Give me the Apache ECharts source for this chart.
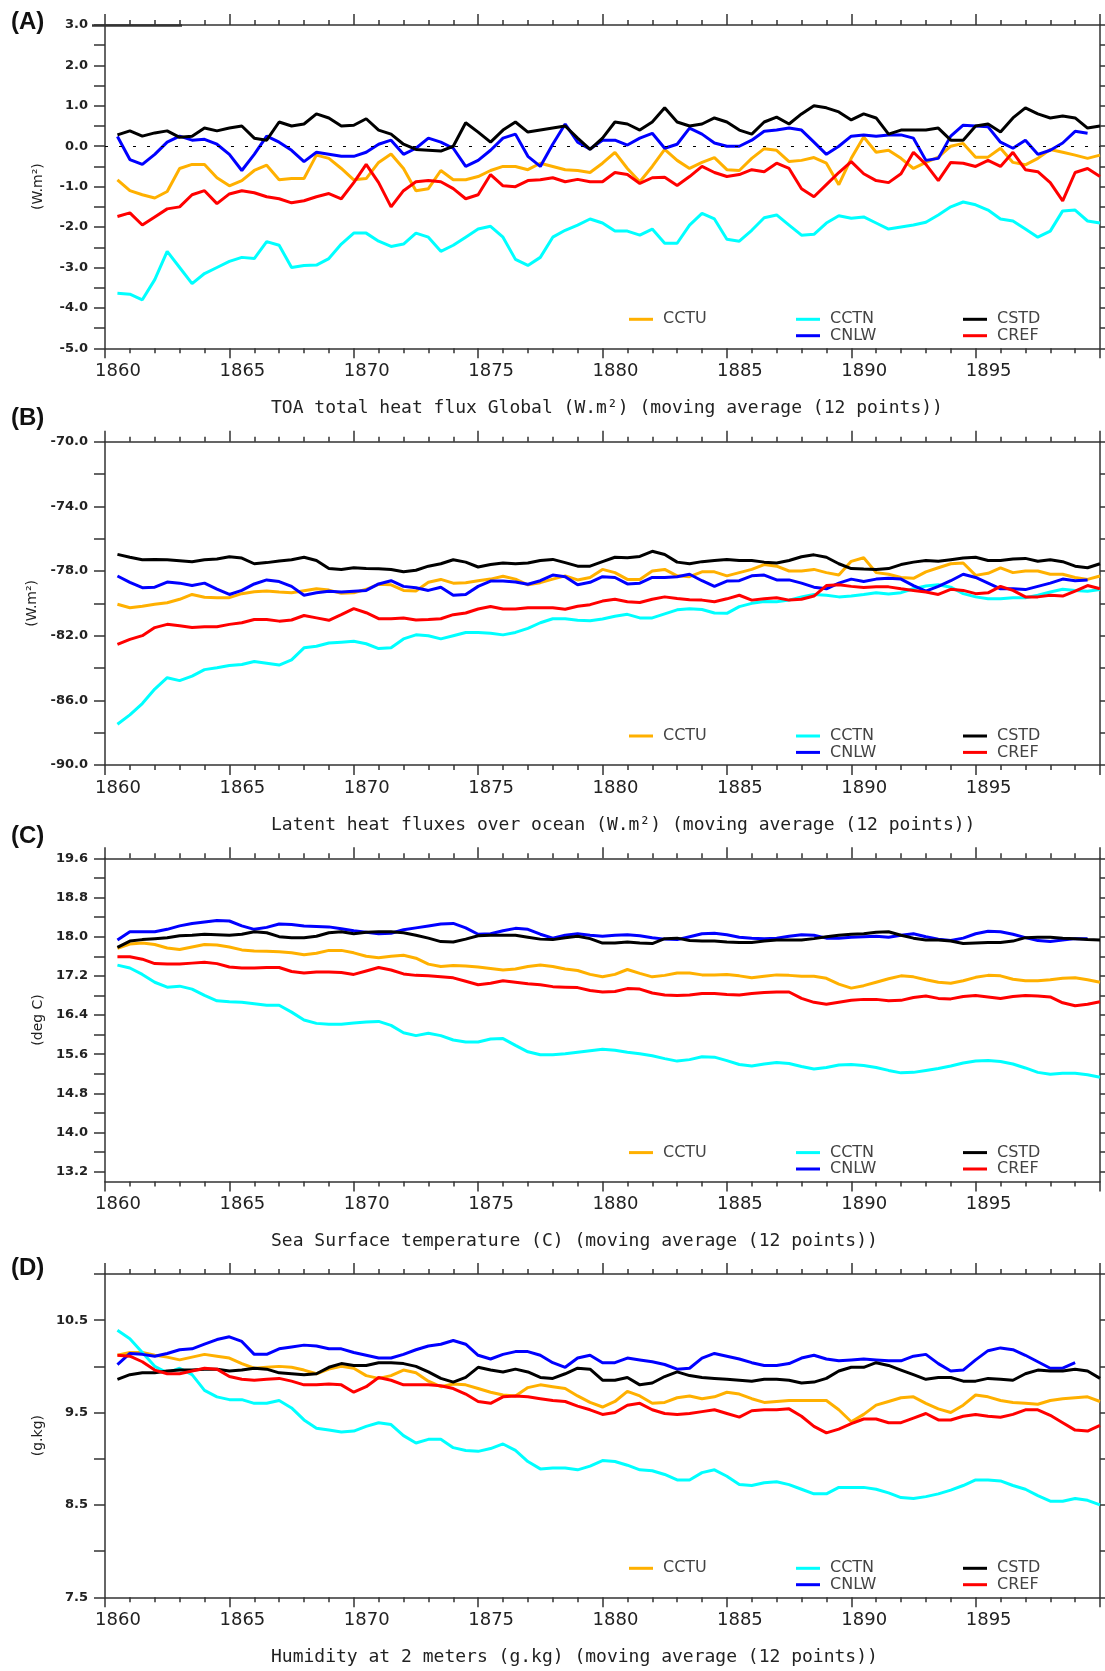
<!DOCTYPE html>
<html>
<head>
<meta charset="utf-8">
<title>Global diagnostics, 1860-1900 (12-point moving average)</title>
<script src="https://cdn.jsdelivr.net/npm/echarts@6/dist/echarts.min.js"></script>
<style>
  html, body { margin: 0; padding: 0; background: #ffffff; }
  #chart { width: 1105px; height: 1671px; }
</style>
</head>
<body>
<div id="chart"></div>
<script>
// Time axis: half-year samples of the 12-point moving averages
const years = [
  1860.5, 1861.0, 1861.5, 1862.0, 1862.5, 1863.0, 1863.5, 1864.0, 1864.5, 1865.0,
  1865.5, 1866.0, 1866.5, 1867.0, 1867.5, 1868.0, 1868.5, 1869.0, 1869.5, 1870.0,
  1870.5, 1871.0, 1871.5, 1872.0, 1872.5, 1873.0, 1873.5, 1874.0, 1874.5, 1875.0,
  1875.5, 1876.0, 1876.5, 1877.0, 1877.5, 1878.0, 1878.5, 1879.0, 1879.5, 1880.0,
  1880.5, 1881.0, 1881.5, 1882.0, 1882.5, 1883.0, 1883.5, 1884.0, 1884.5, 1885.0,
  1885.5, 1886.0, 1886.5, 1887.0, 1887.5, 1888.0, 1888.5, 1889.0, 1889.5, 1890.0,
  1890.5, 1891.0, 1891.5, 1892.0, 1892.5, 1893.0, 1893.5, 1894.0, 1894.5, 1895.0,
  1895.5, 1896.0, 1896.5, 1897.0, 1897.5, 1898.0, 1898.5, 1899.0, 1899.5, 1900.0
];

// (A) TOA total heat flux, global (W.m2)
const toaCCTU = [
  -0.83, -1.1, -1.2, -1.28, -1.12, -0.55, -0.45, -0.45, -0.78, -0.98,
  -0.85, -0.6, -0.47, -0.83, -0.8, -0.8, -0.22, -0.3, -0.55, -0.83,
  -0.8, -0.4, -0.19, -0.55, -1.1, -1.05, -0.6, -0.83, -0.83, -0.75,
  -0.6, -0.5, -0.5, -0.58, -0.42, -0.5, -0.58, -0.6, -0.65, -0.42,
  -0.15, -0.55, -0.88, -0.5, -0.08, -0.35, -0.55, -0.4, -0.28, -0.58,
  -0.6, -0.3, -0.06, -0.1, -0.38, -0.35, -0.28, -0.42, -0.95, -0.3,
  0.23, -0.15, -0.1, -0.3, -0.55, -0.4, -0.27, 0.0, 0.07, -0.27,
  -0.27, -0.05, -0.4, -0.46, -0.3, -0.08, -0.15, -0.22, -0.3, -0.22
];
const toaCCTN = [
  -3.64, -3.66, -3.8, -3.3, -2.6, -3.0, -3.4, -3.15, -3.0, -2.85,
  -2.75, -2.78, -2.36, -2.45, -3.0, -2.95, -2.94, -2.78, -2.42, -2.15,
  -2.15, -2.35, -2.48, -2.42, -2.15, -2.25, -2.6, -2.45, -2.25, -2.05,
  -1.98, -2.25, -2.8, -2.95, -2.75, -2.25, -2.08, -1.95, -1.8, -1.9,
  -2.1, -2.1, -2.2, -2.05, -2.4, -2.4, -1.95, -1.66, -1.8, -2.3,
  -2.35, -2.08, -1.77, -1.7, -1.95, -2.2, -2.18, -1.9, -1.72, -1.78,
  -1.75, -1.9, -2.05, -2.0, -1.95, -1.88, -1.7, -1.5, -1.38, -1.45,
  -1.58, -1.8, -1.85, -2.05, -2.25, -2.1, -1.6, -1.58, -1.85, -1.9
];
const toaCNLW = [
  0.24, -0.33, -0.45, -0.2, 0.1, 0.25, 0.15, 0.17, 0.05, -0.2,
  -0.6, -0.2, 0.25, 0.1, -0.1, -0.38, -0.15, -0.2, -0.25, -0.25,
  -0.15, 0.05, 0.15, -0.2, -0.05, 0.2, 0.1, -0.05, -0.5, -0.35,
  -0.1, 0.2, 0.3, -0.25, -0.5, 0.05, 0.55, 0.1, -0.07, 0.15,
  0.15, 0.03, 0.2, 0.32, -0.05, 0.05, 0.45, 0.3, 0.08, 0.0,
  0.0, 0.15, 0.37, 0.4, 0.45, 0.4, 0.1, -0.2, 0.0, 0.25,
  0.28, 0.25, 0.28, 0.28, 0.2, -0.35, -0.3, 0.25, 0.52, 0.5,
  0.48, 0.1, -0.05, 0.15, -0.2, -0.1, 0.08, 0.37, 0.32, null
];
const toaCSTD = [
  0.28, 0.38, 0.25, 0.33, 0.38, 0.22, 0.25, 0.45, 0.38, 0.45,
  0.5, 0.2, 0.15, 0.6, 0.5, 0.55, 0.8, 0.7, 0.5, 0.52,
  0.68, 0.4, 0.3, 0.05, -0.08, -0.1, -0.12, 0.0, 0.58, 0.35,
  0.1, 0.4, 0.6, 0.35, 0.4, 0.45, 0.5, 0.2, -0.08, 0.2,
  0.6, 0.55, 0.4, 0.6, 0.95, 0.6, 0.5, 0.55, 0.7, 0.6,
  0.4, 0.3, 0.6, 0.72, 0.55, 0.8, 1.0, 0.95, 0.85, 0.65,
  0.8, 0.7, 0.3, 0.4, 0.4, 0.4, 0.45, 0.15, 0.15, 0.5,
  0.55, 0.35, 0.7, 0.95, 0.8, 0.7, 0.75, 0.7, 0.45, 0.5
];
const toaCREF = [
  -1.74, -1.65, -1.95, -1.75, -1.55, -1.5, -1.2, -1.1, -1.42, -1.18,
  -1.1, -1.15, -1.25, -1.3, -1.4, -1.35, -1.25, -1.17, -1.3, -0.9,
  -0.45, -0.9, -1.5, -1.1, -0.88, -0.85, -0.88, -1.05, -1.3, -1.2,
  -0.7, -0.98, -1.0, -0.85, -0.83, -0.78, -0.88, -0.82, -0.88, -0.88,
  -0.65, -0.7, -0.92, -0.78, -0.77, -0.97, -0.75, -0.5, -0.65, -0.75,
  -0.7, -0.58, -0.63, -0.42, -0.55, -1.05, -1.25, -0.95, -0.65, -0.38,
  -0.68, -0.85, -0.9, -0.68, -0.15, -0.45, -0.85, -0.4, -0.42, -0.5,
  -0.35, -0.5, -0.15, -0.58, -0.63, -0.9, -1.35, -0.65, -0.55, -0.75
];

// (B) Latent heat fluxes over ocean (W.m2)
const lhfCCTU = [
  -80.06, -80.27, -80.18, -80.06, -79.96, -79.75, -79.45, -79.62, -79.65, -79.65,
  -79.4, -79.28, -79.24, -79.3, -79.34, -79.22, -79.1, -79.18, -79.38, -79.35,
  -79.13, -78.82, -78.85, -79.2, -79.24, -78.7, -78.52, -78.75, -78.72, -78.6,
  -78.5, -78.32, -78.5, -78.85, -78.72, -78.5, -78.3, -78.55, -78.4, -77.9,
  -78.1, -78.52, -78.52, -78.0, -77.9, -78.3, -78.35, -78.05, -78.05, -78.3,
  -78.1, -77.9, -77.6, -77.7, -78.0, -78.0, -77.9, -78.1, -78.25, -77.4,
  -77.18, -78.1, -78.2, -78.4, -78.45, -78.05, -77.8, -77.55, -77.5, -78.27,
  -78.14, -77.8, -78.1, -78.0, -78.0, -78.2, -78.2, -78.4, -78.52, -78.31
];
const lhfCCTN = [
  -87.48, -86.9, -86.2, -85.3, -84.6, -84.78, -84.5, -84.1, -83.98, -83.85,
  -83.78, -83.6, -83.7, -83.82, -83.5, -82.75, -82.65, -82.45, -82.4, -82.35,
  -82.5, -82.8, -82.75, -82.2, -81.95, -82.0, -82.2, -82.0, -81.8, -81.81,
  -81.85, -81.95, -81.8, -81.55, -81.2, -80.95, -80.95, -81.05, -81.07, -80.97,
  -80.8, -80.68, -80.9, -80.9, -80.65, -80.4, -80.33, -80.38, -80.6, -80.62,
  -80.2, -80.0, -79.88, -79.9, -79.8, -79.6, -79.45, -79.5, -79.6, -79.55,
  -79.45, -79.34, -79.42, -79.34, -79.1, -78.93, -78.85, -79.0, -79.4, -79.6,
  -79.72, -79.72, -79.65, -79.65, -79.5, -79.3, -79.13, -79.2, -79.25, -79.15
];
const lhfCNLW = [
  -78.31, -78.7, -79.03, -79.0, -78.68, -78.75, -78.9, -78.75, -79.12, -79.45,
  -79.2, -78.8, -78.55, -78.65, -78.95, -79.5, -79.35, -79.25, -79.3, -79.25,
  -79.2, -78.8, -78.6, -78.95, -79.03, -79.2, -79.0, -79.5, -79.45, -78.95,
  -78.62, -78.62, -78.68, -78.82, -78.6, -78.25, -78.35, -78.85, -78.7, -78.35,
  -78.4, -78.8, -78.75, -78.4, -78.4, -78.35, -78.2, -78.6, -78.95, -78.62,
  -78.6, -78.3, -78.25, -78.55, -78.55, -78.75, -79.0, -79.1, -78.75, -78.5,
  -78.65, -78.5, -78.45, -78.5, -78.9, -79.24, -78.95, -78.6, -78.2, -78.4,
  -78.75, -79.1, -79.1, -79.15, -78.95, -78.75, -78.5, -78.6, -78.55, null
];
const lhfCSTD = [
  -76.97, -77.15, -77.3, -77.28, -77.3, -77.36, -77.42, -77.3, -77.25, -77.12,
  -77.2, -77.55, -77.48, -77.38, -77.3, -77.15, -77.35, -77.85, -77.9, -77.8,
  -77.85, -77.86, -77.9, -78.05, -77.95, -77.7, -77.55, -77.3, -77.45, -77.75,
  -77.6, -77.5, -77.55, -77.5, -77.35, -77.28, -77.48, -77.7, -77.7, -77.42,
  -77.15, -77.18, -77.1, -76.78, -76.98, -77.45, -77.55, -77.42, -77.35, -77.28,
  -77.35, -77.35, -77.45, -77.5, -77.35, -77.12, -77.0, -77.15, -77.55, -77.85,
  -77.88, -77.9, -77.85, -77.6, -77.45, -77.35, -77.4, -77.3, -77.2, -77.15,
  -77.35, -77.35, -77.25, -77.22, -77.4, -77.3, -77.42, -77.7, -77.8, -77.55
];
const lhfCREF = [
  -82.54, -82.23, -82.0, -81.5, -81.3, -81.38, -81.5, -81.45, -81.45, -81.3,
  -81.2, -81.0, -81.0, -81.1, -81.03, -80.75, -80.9, -81.05, -80.7, -80.33,
  -80.58, -80.95, -80.95, -80.9, -81.03, -81.0, -80.95, -80.7, -80.6, -80.35,
  -80.2, -80.35, -80.35, -80.27, -80.27, -80.27, -80.37, -80.18, -80.08, -79.86,
  -79.75, -79.9, -79.95, -79.75, -79.6, -79.7, -79.78, -79.8, -79.9, -79.72,
  -79.5, -79.8, -79.72, -79.65, -79.8, -79.75, -79.55, -78.9, -78.85, -78.95,
  -79.02, -78.98, -78.98, -79.1, -79.2, -79.3, -79.45, -79.13, -79.2, -79.4,
  -79.35, -78.95, -79.2, -79.6, -79.6, -79.5, -79.55, -79.24, -78.9, -79.1
];

// (C) Sea surface temperature (deg C)
const sstCCTU = [
  17.76, 17.85, 17.87, 17.84, 17.77, 17.74, 17.79, 17.84, 17.83, 17.79,
  17.73, 17.71, 17.7, 17.69, 17.67, 17.63, 17.66, 17.72, 17.72, 17.67,
  17.6, 17.57, 17.6, 17.62, 17.56, 17.44, 17.39, 17.41, 17.4, 17.38,
  17.35, 17.32, 17.34, 17.39, 17.42, 17.39, 17.34, 17.31, 17.23, 17.18,
  17.23, 17.33, 17.25, 17.18, 17.21, 17.26, 17.26, 17.22, 17.22, 17.23,
  17.2, 17.16, 17.19, 17.22, 17.21, 17.19, 17.19, 17.15, 17.03, 16.95,
  17.0, 17.07, 17.14, 17.2, 17.18, 17.12, 17.07, 17.05, 17.1, 17.17,
  17.21, 17.2, 17.13, 17.1, 17.1, 17.12, 17.15, 17.16, 17.12, 17.07
];
const sstCCTN = [
  17.42, 17.36, 17.23, 17.07, 16.97, 16.99, 16.93, 16.8, 16.69, 16.67,
  16.66, 16.63, 16.6, 16.6, 16.46, 16.3, 16.23, 16.21, 16.21, 16.24,
  16.26, 16.27, 16.19, 16.04, 15.98, 16.03, 15.98, 15.89, 15.85, 15.85,
  15.91, 15.92, 15.78, 15.65, 15.59, 15.59, 15.61, 15.64, 15.67, 15.7,
  15.68, 15.64, 15.61, 15.57, 15.51, 15.46, 15.49, 15.55, 15.54, 15.47,
  15.39, 15.36, 15.4, 15.43, 15.41, 15.35, 15.3, 15.33, 15.38, 15.39,
  15.37, 15.33, 15.27, 15.22, 15.23, 15.27, 15.31, 15.36, 15.42, 15.46,
  15.47, 15.45, 15.4, 15.32, 15.23, 15.19, 15.21, 15.21, 15.18, 15.13
];
const sstCNLW = [
  17.93, 18.1, 18.1, 18.1, 18.15, 18.22, 18.27, 18.3, 18.33, 18.32,
  18.22, 18.15, 18.19, 18.26, 18.25, 18.22, 18.21, 18.2, 18.16, 18.12,
  18.09, 18.06, 18.07, 18.14, 18.18, 18.22, 18.26, 18.27, 18.18, 18.05,
  18.06, 18.12, 18.17, 18.15, 18.05, 17.97, 18.03, 18.06, 18.03, 18.01,
  18.03, 18.04, 18.02, 17.98, 17.95, 17.94, 18.0, 18.06, 18.07, 18.04,
  17.99, 17.97, 17.96, 17.97, 18.01, 18.04, 18.03, 17.97, 17.97, 17.99,
  18.0, 18.01, 17.99, 18.03, 18.06, 18.0, 17.95, 17.92, 17.97, 18.06,
  18.11, 18.1, 18.05, 17.98, 17.92, 17.9, 17.93, 17.96, 17.96, null
];
const sstCSTD = [
  17.78, 17.91, 17.94, 17.96, 17.98, 18.02, 18.03, 18.05, 18.04, 18.03,
  18.05, 18.1, 18.08, 18.0, 17.98, 17.98, 18.01, 18.08, 18.1, 18.06,
  18.09, 18.1, 18.1, 18.08, 18.03, 17.97, 17.9, 17.89, 17.95, 18.02,
  18.03, 18.03, 18.03, 17.99, 17.95, 17.94, 17.98, 18.01, 17.96, 17.87,
  17.87, 17.89, 17.87, 17.86, 17.96, 17.97, 17.92, 17.91, 17.91, 17.89,
  17.88, 17.88, 17.91, 17.93, 17.93, 17.93, 17.96, 18.0, 18.03, 18.05,
  18.06, 18.09, 18.1, 18.03, 17.97, 17.93, 17.93, 17.91, 17.86, 17.87,
  17.88, 17.88, 17.91, 17.98, 17.99, 17.99, 17.97, 17.96, 17.94, 17.93
];
const sstCREF = [
  17.59, 17.59, 17.54, 17.45, 17.44, 17.44, 17.46, 17.48, 17.45, 17.38,
  17.36, 17.36, 17.37, 17.37, 17.29, 17.26, 17.28, 17.28, 17.27, 17.23,
  17.3, 17.37, 17.32, 17.24, 17.21, 17.2, 17.18, 17.16, 17.09, 17.02,
  17.05, 17.1, 17.07, 17.04, 17.02, 16.98, 16.97, 16.96, 16.9, 16.87,
  16.88, 16.94, 16.93, 16.85, 16.81, 16.8, 16.81, 16.84, 16.84, 16.82,
  16.81, 16.84, 16.86, 16.87, 16.87, 16.74, 16.66, 16.62, 16.66, 16.7,
  16.72, 16.72, 16.69, 16.7, 16.76, 16.79, 16.74, 16.73, 16.78, 16.8,
  16.77, 16.74, 16.78, 16.8, 16.79, 16.77, 16.65, 16.59, 16.62, 16.67
];

// (D) Humidity at 2 meters (g.kg)
const humCCTU = [
  10.12, 10.15, 10.15, 10.12, 10.1, 10.07, 10.1, 10.13, 10.11, 10.09,
  10.03, 9.98, 9.99, 10.0, 9.99, 9.96, 9.92, 9.97, 10.0, 9.98,
  9.9, 9.87, 9.9, 9.96, 9.93, 9.84, 9.78, 9.81, 9.8, 9.76,
  9.72, 9.69, 9.68, 9.77, 9.8, 9.78, 9.76, 9.68, 9.61, 9.56,
  9.62, 9.73, 9.68, 9.6, 9.61, 9.66, 9.68, 9.65, 9.67, 9.72,
  9.7, 9.65, 9.61, 9.62, 9.63, 9.63, 9.63, 9.63, 9.53, 9.4,
  9.48, 9.58, 9.62, 9.66, 9.67, 9.6, 9.54, 9.5, 9.58, 9.69,
  9.67, 9.63, 9.61, 9.6, 9.59, 9.63, 9.65, 9.66, 9.67, 9.62
];
const humCCTN = [
  10.39, 10.3, 10.15, 10.0, 9.93, 9.98, 9.91, 9.74, 9.67, 9.64,
  9.64, 9.6, 9.6, 9.63, 9.55, 9.42, 9.33, 9.31, 9.29, 9.3,
  9.35, 9.39, 9.37, 9.25, 9.17, 9.21, 9.21, 9.12, 9.09, 9.08,
  9.11, 9.16, 9.09, 8.97, 8.89, 8.9, 8.9, 8.88, 8.92, 8.98,
  8.97, 8.93, 8.88, 8.87, 8.83, 8.77, 8.77, 8.85, 8.88, 8.81,
  8.72, 8.71, 8.74, 8.75, 8.72, 8.67, 8.62, 8.62, 8.69, 8.69,
  8.69, 8.67, 8.63, 8.58, 8.57, 8.59, 8.62, 8.66, 8.71, 8.77,
  8.77, 8.76, 8.71, 8.67, 8.6, 8.54, 8.54, 8.57, 8.55, 8.5
];
const humCNLW = [
  10.02, 10.14, 10.13, 10.11, 10.14, 10.18, 10.19, 10.24, 10.29, 10.32,
  10.27, 10.13, 10.13, 10.19, 10.21, 10.23, 10.22, 10.19, 10.19, 10.15,
  10.12, 10.09, 10.09, 10.13, 10.18, 10.22, 10.24, 10.28, 10.24, 10.12,
  10.08, 10.13, 10.16, 10.16, 10.12, 10.04, 9.99, 10.09, 10.12, 10.04,
  10.04, 10.09, 10.07, 10.05, 10.02, 9.97, 9.98, 10.09, 10.14, 10.11,
  10.08, 10.04, 10.01, 10.01, 10.03, 10.09, 10.12, 10.08, 10.06, 10.07,
  10.08, 10.07, 10.06, 10.06, 10.11, 10.13, 10.03, 9.95, 9.96, 10.07,
  10.17, 10.2, 10.18, 10.12, 10.05, 9.98, 9.98, 10.04, null, null
];
const humCSTD = [
  9.86, 9.91, 9.93, 9.93, 9.95, 9.96, 9.96, 9.97, 9.97, 9.95,
  9.96, 9.98, 9.97, 9.93, 9.92, 9.91, 9.92, 9.99, 10.03, 10.01,
  10.01, 10.04, 10.04, 10.03, 10.0, 9.94, 9.87, 9.83, 9.88, 9.99,
  9.96, 9.94, 9.97, 9.94, 9.88, 9.87, 9.92, 9.98, 9.97, 9.85,
  9.85, 9.88, 9.8, 9.82, 9.89, 9.94, 9.9, 9.88, 9.87, 9.86,
  9.85, 9.84, 9.86, 9.86, 9.85, 9.82, 9.83, 9.87, 9.95, 9.99,
  9.99, 10.04, 10.01, 9.96, 9.91, 9.86, 9.88, 9.88, 9.84, 9.84,
  9.87, 9.86, 9.85, 9.92, 9.96, 9.95, 9.95, 9.97, 9.95, 9.87
];
const humCREF = [
  10.12, 10.11, 10.05, 9.96, 9.92, 9.92, 9.95, 9.98, 9.97, 9.89,
  9.86, 9.85, 9.86, 9.87, 9.84, 9.8, 9.8, 9.81, 9.8, 9.72,
  9.78, 9.88, 9.85, 9.8, 9.8, 9.8, 9.79, 9.76, 9.7, 9.62,
  9.6, 9.67, 9.68, 9.67, 9.65, 9.63, 9.62, 9.57, 9.53, 9.48,
  9.5, 9.58, 9.6, 9.53, 9.49, 9.48, 9.49, 9.51, 9.53, 9.49,
  9.45, 9.52, 9.53, 9.53, 9.54, 9.46, 9.35, 9.28, 9.32, 9.38,
  9.43, 9.43, 9.39, 9.39, 9.44, 9.49, 9.42, 9.42, 9.46, 9.48,
  9.46, 9.45, 9.48, 9.53, 9.53, 9.47, 9.39, 9.31, 9.3, 9.36
];

// Axis tick positions and labelled values
const yearLabels = [1860, 1865, 1870, 1875, 1880, 1885, 1890, 1895];
const toaTicks = [-5, -4.5, -4, -3.5, -3, -2.5, -2, -1.5, -1, -0.5, 0, 0.5, 1, 1.5, 2, 2.5, 3];
const toaLabels = [-5, -4, -3, -2, -1, 0, 1, 2, 3];
const lhfTicks = [-90, -88, -86, -84, -82, -80, -78, -76, -74, -72, -70];
const lhfLabels = [-90, -86, -82, -78, -74, -70];
const sstTicks = [13.2, 13.6, 14.0, 14.4, 14.8, 15.2, 15.6, 16.0, 16.4, 16.8, 17.2, 17.6, 18.0, 18.4, 18.8, 19.2, 19.6];
const sstLabels = [13.2, 14.0, 14.8, 15.6, 16.4, 17.2, 18.0, 18.8, 19.6];
const humTicks = [7.5, 8.0, 8.5, 9.0, 9.5, 10.0, 10.5, 11.0];
const humLabels = [7.5, 8.5, 9.5, 10.5];

const runNames = ['CCTU', 'CCTN', 'CNLW', 'CSTD', 'CREF'];
const runColors = { CCTU: '#FFB000', CCTN: '#00FFFF', CNLW: '#0000FF', CSTD: '#000000', CREF: '#FF0000' };

const panels = [
  { letter: '(A)', letterY: 22, top: 25, min: -5, max: 3, ticks: toaTicks, labels: toaLabels, yName: '(W.m²)',
    title: 'TOA total heat flux Global (W.m²) (moving average (12 points))', zeroLine: true,
    runs: { CCTU: toaCCTU, CCTN: toaCCTN, CNLW: toaCNLW, CSTD: toaCSTD, CREF: toaCREF } },
  { letter: '(B)', letterY: 418, top: 441.7, min: -90, max: -70, ticks: lhfTicks, labels: lhfLabels, yName: '(W.m²)',
    title: 'Latent heat fluxes over ocean (W.m²) (moving average (12 points))', zeroLine: false,
    runs: { CCTU: lhfCCTU, CCTN: lhfCCTN, CNLW: lhfCNLW, CSTD: lhfCSTD, CREF: lhfCREF } },
  { letter: '(C)', letterY: 836, top: 858.3, min: 13.0, max: 19.6, ticks: sstTicks, labels: sstLabels, yName: '(deg C)',
    title: 'Sea Surface temperature (C) (moving average (12 points))', zeroLine: false,
    runs: { CCTU: sstCCTU, CCTN: sstCCTN, CNLW: sstCNLW, CSTD: sstCSTD, CREF: sstCREF } },
  { letter: '(D)', letterY: 1268, top: 1274, min: 7.5, max: 11.0, ticks: humTicks, labels: humLabels, yName: '(g.kg)',
    title: 'Humidity at 2 meters (g.kg) (moving average (12 points))', zeroLine: false,
    runs: { CCTU: humCCTU, CCTN: humCCTN, CNLW: humCNLW, CSTD: humCSTD, CREF: humCREF } }
];

const PLOT_LEFT = 105;
const PLOT_WIDTH = 995;
const PLOT_HEIGHT = 323.3;
const FRAME = { color: '#333333', width: 1.5 };

// Legend slots: short line at x, two rows above the bottom frame
const legendSlots = {
  CCTU: { x: 629, row: 0 },
  CCTN: { x: 796, row: 0 },
  CNLW: { x: 796, row: 1 },
  CSTD: { x: 963, row: 0 },
  CREF: { x: 963, row: 1 }
};

const grid = [], xAxis = [], yAxis = [], series = [], title = [], legend = [];

panels.forEach((p, i) => {
  const bottom = p.top + PLOT_HEIGHT;
  grid.push({ left: PLOT_LEFT, top: p.top, width: PLOT_WIDTH, height: PLOT_HEIGHT, containLabel: false });

  // bottom time axis with labels centred mid-year
  xAxis.push({
    type: 'value', gridIndex: i, position: 'bottom', min: 1860, max: 1900, interval: 5,
    axisLine: { show: true, onZero: false, lineStyle: FRAME },
    axisTick: { show: true, inside: false, length: 10, lineStyle: FRAME },
    minorTick: { show: true, splitNumber: 5, length: 5, lineStyle: FRAME },
    splitLine: { show: false }, minorSplitLine: { show: false },
    axisLabel: {
      customValues: yearLabels, margin: 14, padding: [0, 0, 0, 26],
      fontFamily: 'DejaVu Sans', fontSize: 18, color: '#222222',
      formatter: v => String(Math.round(v))
    }
  });
  // top frame with mirrored ticks
  xAxis.push({
    type: 'value', gridIndex: i, position: 'top', min: 1860, max: 1900, interval: 5,
    axisLine: { show: true, onZero: false, lineStyle: FRAME },
    axisTick: { show: true, inside: false, length: 11, lineStyle: FRAME },
    minorTick: { show: true, splitNumber: 5, length: 5, lineStyle: FRAME },
    splitLine: { show: false }, minorSplitLine: { show: false },
    axisLabel: { show: false }
  });

  yAxis.push({
    type: 'value', gridIndex: i, position: 'left', min: p.min, max: p.max,
    axisLine: { show: true, onZero: false, lineStyle: FRAME },
    axisTick: { show: true, inside: false, length: 11, customValues: p.ticks, lineStyle: FRAME },
    splitLine: { show: false },
    axisLabel: {
      customValues: p.labels, margin: 17,
      fontFamily: 'DejaVu Sans', fontWeight: 'bold', fontSize: 13, color: '#222222',
      formatter: v => v.toFixed(1)
    },
    name: p.yName, nameLocation: 'middle', nameGap: 60,
    nameTextStyle: { fontFamily: 'DejaVu Sans', fontSize: 14, color: '#222222' }
  });
  yAxis.push({
    type: 'value', gridIndex: i, position: 'right', min: p.min, max: p.max,
    axisLine: { show: true, onZero: false, lineStyle: FRAME },
    axisTick: { show: true, inside: false, length: 5, customValues: p.ticks, lineStyle: FRAME },
    splitLine: { show: false },
    axisLabel: { show: false }
  });

  runNames.forEach(name => {
    const values = p.runs[name];
    const s = {
      type: 'line', name: name,
      xAxisIndex: 2 * i, yAxisIndex: 2 * i,
      data: years.map((yr, k) => [yr, values[k]]),
      symbol: 'none', showSymbol: false, connectNulls: false, animation: false,
      lineStyle: { color: runColors[name], width: 3 },
      itemStyle: { color: runColors[name] },
      emphasis: { disabled: true }
    };
    if (p.zeroLine && name === 'CSTD') {
      s.markLine = {
        silent: true, symbol: ['none', 'none'], label: { show: false }, animation: false,
        lineStyle: { color: '#000000', width: 1, type: [3, 11] },
        data: [{ yAxis: 0 }]
      };
    }
    series.push(s);

    const slot = legendSlots[name];
    const lineY = bottom - (slot.row === 0 ? 29 : 12.6);
    legend.push({
      show: true, selectedMode: false, orient: 'horizontal', padding: 0,
      left: slot.x, top: lineY - 13,
      itemWidth: 24, itemHeight: 3, itemGap: 0, icon: 'rect',
      data: [name],
      textStyle: { fontFamily: 'DejaVu Sans', fontSize: 16, color: '#444444', lineHeight: 16, padding: [0, 0, 10, 5] }
    });
  });

  title.push({
    text: p.title, left: 271, top: bottom + 60 - 11, padding: 0,
    textStyle: { fontFamily: 'DejaVu Sans Mono', fontSize: 18, fontWeight: 'normal', color: '#222222', lineHeight: 22 }
  });
  title.push({
    text: p.letter, left: 11, top: p.letterY - 14, padding: 0,
    textStyle: { fontFamily: 'Liberation Sans', fontSize: 24, fontWeight: 'bold', color: '#111111', lineHeight: 28 }
  });
});

const chart = echarts.init(document.getElementById('chart'), null, { renderer: 'canvas' });
chart.setOption({
  backgroundColor: '#ffffff',
  animation: false,
  title: title,
  legend: legend,
  grid: grid,
  xAxis: xAxis,
  yAxis: yAxis,
  series: series,
  graphic: [{
    // heavier stroke on the upper-left corner of the top panel frame
    type: 'line', shape: { x1: 92, y1: 25.5, x2: 182, y2: 25.5 },
    style: { stroke: '#333333', lineWidth: 2.5 }, silent: true, z: 10
  }]
});
</script>
</body>
</html>
